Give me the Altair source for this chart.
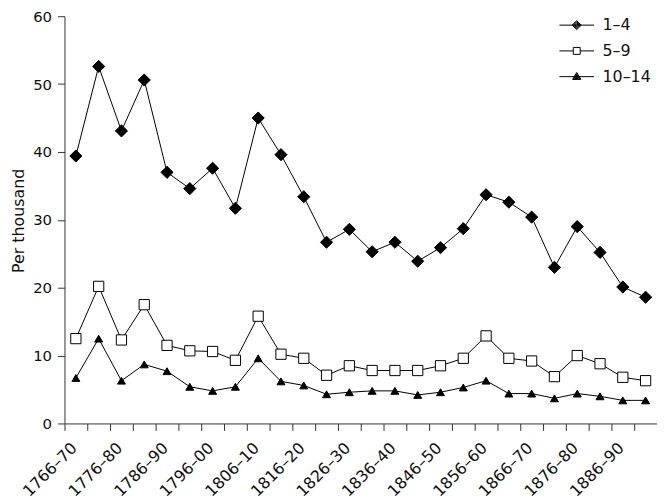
import altair as alt
import pandas as pd

periods = ["1766–70", "1771–75", "1776–80", "1781–85", "1786–90", "1791–95",
           "1796–00", "1801–05", "1806–10", "1811–15", "1816–20", "1821–25",
           "1826–30", "1831–35", "1836–40", "1841–45", "1846–50", "1851–55",
           "1856–60", "1861–65", "1866–70", "1871–75", "1876–80", "1881–85",
           "1886–90", "1891–95"]
shown_labels = periods[::2]

series_names = ["1–4", "5–9", "10–14"]
age_1_4 = [39.4, 52.6, 43.1, 50.6, 37.0, 34.6, 37.6, 31.7, 45.0, 39.6, 33.4, 26.7, 28.6,
           25.3, 26.7, 23.9, 25.9, 28.7, 33.7, 32.6, 30.4, 23.0, 29.0, 25.2, 20.1, 18.6]
age_5_9 = [12.5, 20.2, 12.3, 17.5, 11.5, 10.7, 10.6, 9.3, 15.8, 10.2, 9.6, 7.1, 8.5,
           7.8, 7.8, 7.8, 8.5, 9.6, 12.9, 9.6, 9.2, 6.9, 10.0, 8.8, 6.8, 6.3]
age_10_14 = [6.7, 12.5, 6.3, 8.7, 7.7, 5.4, 4.8, 5.4, 9.6, 6.2, 5.6, 4.3, 4.6,
             4.8, 4.8, 4.2, 4.6, 5.3, 6.3, 4.4, 4.4, 3.7, 4.4, 4.0, 3.4, 3.4]
y_ticks = [0, 10, 20, 30, 40, 50, 60]

rows = []
for name, vals in zip(series_names, [age_1_4, age_5_9, age_10_14]):
    for p, v in zip(periods, vals):
        rows.append({"period": p, "series": name, "value": v})
df = pd.DataFrame(rows)

FONT = "DejaVu Sans"
AX = "#333333"
TXT = "#111111"

label_list = "[" + ",".join("'" + s + "'" for s in shown_labels) + "]"

x_enc = alt.X("period:N", sort=periods,
              scale=alt.Scale(type="band", paddingInner=0, paddingOuter=0),
              axis=alt.Axis(title=None, tickBand="extent", labelAngle=315,
                            labelAlign="right", labelBaseline="middle",
                            labelPadding=15, labelOffset=-2, labelOverlap=False,
                            labelFontSize=16, labelFont=FONT, labelColor=TXT,
                            tickSize=7, tickColor=AX, domainColor=AX,
                            labelExpr="indexof(" + label_list + ", datum.value) >= 0 ? datum.value : ''"))
y_enc = alt.Y("value:Q", scale=alt.Scale(domain=[0, 60], nice=False),
              axis=alt.Axis(title="Per thousand", values=y_ticks, grid=False,
                            tickSize=7, labelPadding=6, tickColor=AX, domainColor=AX,
                            labelFontSize=15, labelFont=FONT, labelColor=TXT,
                            titleFontSize=16, titleFont=FONT, titleFontWeight="normal",
                            titleColor=TXT, titleX=-41, titleY=206,
                            titleAngle=270, titleAlign="center",
                            titleBaseline="alphabetic"))

base = alt.Chart(df).encode(x=x_enc, y=y_enc)

lines = base.mark_line(color="black", strokeWidth=1).encode(detail="series:N")

points = base.mark_point(filled=True, stroke="black", strokeWidth=1, opacity=1).encode(
    shape=alt.Shape("series:N", scale=alt.Scale(domain=series_names,
                    range=["diamond", "square", "triangle-up"]), legend=None),
    fill=alt.Fill("series:N", scale=alt.Scale(domain=series_names,
                  range=["black", "white", "black"]), legend=None),
    size=alt.Size("series:N", scale=alt.Scale(domain=series_names,
                  range=[150, 64, 52]), legend=None),
)

legend_paths = [
    "M-1,0H1M0,-0.26L0.26,0L0,0.26L-0.26,0ZM0,-0.2L0.2,0L0,0.2L-0.2,0Z"
    "M0,-0.14L0.14,0L0,0.14L-0.14,0ZM0,-0.08L0.08,0L0,0.08L-0.08,0ZM-0.03,0H0.03",
    "M-1,0H-0.2M0.2,0H1M-0.2,-0.2H0.2V0.2H-0.2Z",
    "M-1,0H1M0,-0.24L0.24,0.16H-0.24ZM0,-0.173L0.18,0.127H-0.18Z"
    "M0,-0.107L0.12,0.093H-0.12ZM0,-0.04L0.06,0.06H-0.06Z",
]

legend_layer = base.mark_point(filled=False, stroke="black", strokeWidth=1, opacity=1).encode(
    shape=alt.Shape("series:N", scale=alt.Scale(domain=series_names, range=legend_paths),
                    legend=alt.Legend(title=None, orient="none", legendX=499, legendY=-9,
                                      symbolSize=1225, symbolStrokeWidth=1,
                                      symbolStrokeColor="black", symbolOpacity=1,
                                      symbolFillColor="transparent",
                                      labelFontSize=16, labelFont=FONT, labelColor=TXT,
                                      labelOffset=8, rowPadding=-3, padding=0)),
).transform_filter("datum.value < -1000")

chart = alt.layer(lines, points, legend_layer).resolve_scale(
    shape="independent", fill="independent", size="independent"
).properties(
    width=598, height=411,
    autosize=alt.AutoSizeParams(type="none"),
    padding={"left": 57, "top": 6, "right": 0, "bottom": 78},
    background="white",
).configure_view(stroke=None)

chart.save("out.html", embed_options={"renderer": "svg", "actions": False})
